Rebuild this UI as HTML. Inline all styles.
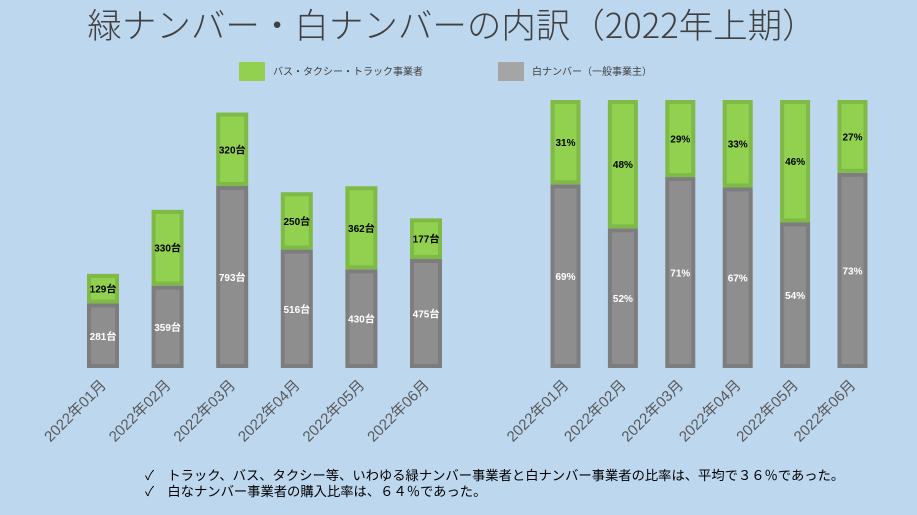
<!DOCTYPE html>
<html><head><meta charset="utf-8"><style>
body{margin:0;background:#bdd7ee;}
svg{display:block;font-family:"Liberation Sans","Noto Sans CJK JP",sans-serif;}
</style></head><body>
<svg width="917" height="515" viewBox="0 0 917 515">
<rect width="917" height="515" fill="#bdd7ee"/>
<text x="452" y="38" font-size="34.5" fill="#404040" text-anchor="middle" style="font-family:'Noto Sans CJK JP',sans-serif;font-weight:300">緑ナンバー・白ナンバーの内訳（2022年上期）</text>
<g>
<rect x="239" y="62" width="26" height="19" fill="#92d050"/>
<text x="273" y="75" font-size="10" fill="#404040">バス・タクシー・トラック事業者</text>
<rect x="498" y="62" width="26" height="19" fill="#a5a5a5"/>
<text x="532" y="75" font-size="10" fill="#404040">白ナンバー（一般事業主）</text>
</g>
<g id="left"></g>
<g id="right"></g>
<g>
<text x="145" y="480" font-size="13.3" fill="#000">✓　トラック、バス、タクシー等、いわゆる緑ナンバー事業者と白ナンバー事業者の比率は、平均で３６％であった。</text>
<text x="145" y="496" font-size="13.3" fill="#000">✓　白なナンバー事業者の購入比率は、６４％であった。</text>
</g>
</svg>
<script>
const categories=["2022年01月","2022年02月","2022年03月","2022年04月","2022年05月","2022年06月"];
const greenValues=[129,330,320,250,362,177];
const grayValues=[281,359,793,516,430,475];
const NS="http://www.w3.org/2000/svg";
function mk(tag,attrs,parent){const e=document.createElementNS(NS,tag);for(const k in attrs)e.setAttribute(k,attrs[k]);parent.appendChild(e);return e;}
const base=368;
const leftScale=v=>v*0.2295;
const leftX=i=>103+i*64.6;
const rightX=i=>565.5+i*57.4;
const rightH=268;
function bar(g,cx,w,y,h,fill,stroke,name){
  const r=mk('rect',{x:cx-w/2+2,y:y+2,width:w-4,height:Math.max(h-4,0),fill:fill,stroke:stroke,'stroke-width':4},g);
  
  
}
function label(g,x,y,txt,col,name){
  const t=mk('text',{x:x,y:y+4,'font-size':10,'font-weight':'bold','text-anchor':'middle',fill:col},g);
  t.textContent=txt;
  
  
}
function xlab(g,cx,txt,name){
  const t=mk('text',{x:0,y:0,'font-size':15,fill:'#595959','text-anchor':'end',transform:`translate(${cx+4},${386}) rotate(-45)`},g);
  t.textContent=txt;
  
  
}
const L=document.getElementById('left'),R=document.getElementById('right');
categories.forEach((c,i)=>{
  const gh=leftScale(grayValues[i]),grh=leftScale(greenValues[i]);
  const cx=leftX(i);
  bar(L,cx,32,base-gh,gh,'#8e8e8e','#7d7d7d','bar-gray-'+(i+1));
  bar(L,cx,32,base-gh-grh,grh,'#92d050','#7fb946','bar-green-'+(i+1));
  label(L,cx,base-gh/2,grayValues[i]+'台','#fff','label-gray-'+(i+1));
  label(L,cx,base-gh-grh/2,greenValues[i]+'台','#000','label-green-'+(i+1));
  xlab(L,cx,c,'x-label-left-'+(i+1));
  const tot=greenValues[i]+grayValues[i];
  const gp=grayValues[i]/tot,grp=greenValues[i]/tot;
  const rx=rightX(i);
  const h1=gp*rightH,h2=grp*rightH;
  bar(R,rx,30,base-h1,h1,'#8e8e8e','#7d7d7d','pct-bar-gray-'+(i+1));
  bar(R,rx,30,base-h1-h2,h2,'#92d050','#7fb946','pct-bar-green-'+(i+1));
  label(R,rx,base-h1/2,Math.round(gp*100)+'%','#fff','pct-label-gray-'+(i+1));
  label(R,rx,base-h1-h2/2,Math.round(grp*100)+'%','#000','pct-label-green-'+(i+1));
  xlab(R,rx,c,'x-label-right-'+(i+1));
});
</script>
</body></html>
